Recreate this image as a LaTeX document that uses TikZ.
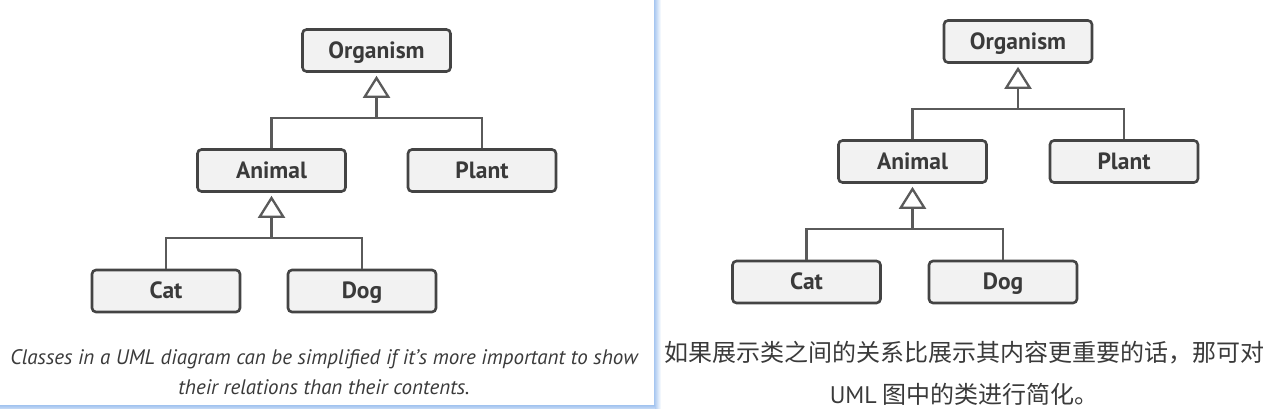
\documentclass[tikz,border=0pt]{standalone}
\usepackage{fontspec}
\setmainfont{PT Sans}
\newfontfamily\cjk{Noto Sans CJK SC}
\usetikzlibrary{arrows.meta}
\definecolor{boxline}{HTML}{444444}
\definecolor{boxfill}{HTML}{F2F2F2}
\definecolor{conn}{HTML}{5A5A5A}
\definecolor{captxt}{HTML}{3A3A3A}
\definecolor{edge}{HTML}{A6C6F0}
\tikzset{
  cls/.style={draw=boxline, fill=boxfill, line width=2.6pt, rounded corners=4pt,
    minimum width=148pt, minimum height=42pt, inner sep=0pt,
    text height=15pt, text depth=0pt,
    font=\fontsize{23.5}{26}\selectfont\bfseries, text=captxt},
  inh/.style={draw=conn, line width=2.3pt,
    -{Triangle[open, width=27pt, length=22pt, fill=white]}, shorten >=3pt},
  bar/.style={draw=conn, line width=2.3pt},
  capen/.style={font=\fontsize{21}{30}\selectfont\itshape, text=captxt, align=center},
  capzh/.style={font=\cjk\fontsize{24}{42}\selectfont, text=captxt, align=center}
}
\begin{document}
\begin{tikzpicture}[x=1pt, y=-1pt]
\useasboundingbox (0,0) rectangle (1277,408);
% left card edges
\shade[left color=edge, right color=white] (654,0) rectangle (661,408);
\shade[top color=edge, bottom color=edge!70] (0,405.5) rectangle (655,408);

% left diagram
\node[cls] (org1) at (376.5,50.5) {Organism};
\node[cls] (ani1) at (271.5,170.5) {Animal};
\node[cls] (pla1) at (482,170.5) {Plant};
\node[cls] (cat1) at (166,291) {Cat};
\node[cls] (dog1) at (362,291) {Dog};
\coordinate (j1) at (376.5,118);
\coordinate (k1) at (271.5,238);
\draw[bar] (ani1.north) |- (j1) -| (pla1.north);
\draw[inh] (j1) -- (org1.south);
\draw[bar] (cat1.north) |- (k1) -| (dog1.north);
\draw[inh] (k1) -- (ani1.south);
\node[capen] (cap1) at (324,372) {Classes in a UML diagram can be simplified if it’s more important to show\\their relations than their contents.};

% right diagram
\node[cls] (org2) at (1018,41.5) {Organism};
\node[cls] (ani2) at (912.5,161.5) {Animal};
\node[cls] (pla2) at (1124,161.5) {Plant};
\node[cls] (cat2) at (806.5,282) {Cat};
\node[cls] (dog2) at (1003,282) {Dog};
\coordinate (j2) at (1018,109);
\coordinate (k2) at (912.5,229);
\draw[bar] (ani2.north) |- (j2) -| (pla2.north);
\draw[inh] (j2) -- (org2.south);
\draw[bar] (cat2.north) |- (k2) -| (dog2.north);
\draw[inh] (k2) -- (ani2.south);
\node[capzh] (cap2) at (964,373) {如果展示类之间的关系比展示其内容更重要的话，那可对\\{\fontspec{PT Sans}UML} 图中的类进行简化。};
\end{tikzpicture}
\end{document}
